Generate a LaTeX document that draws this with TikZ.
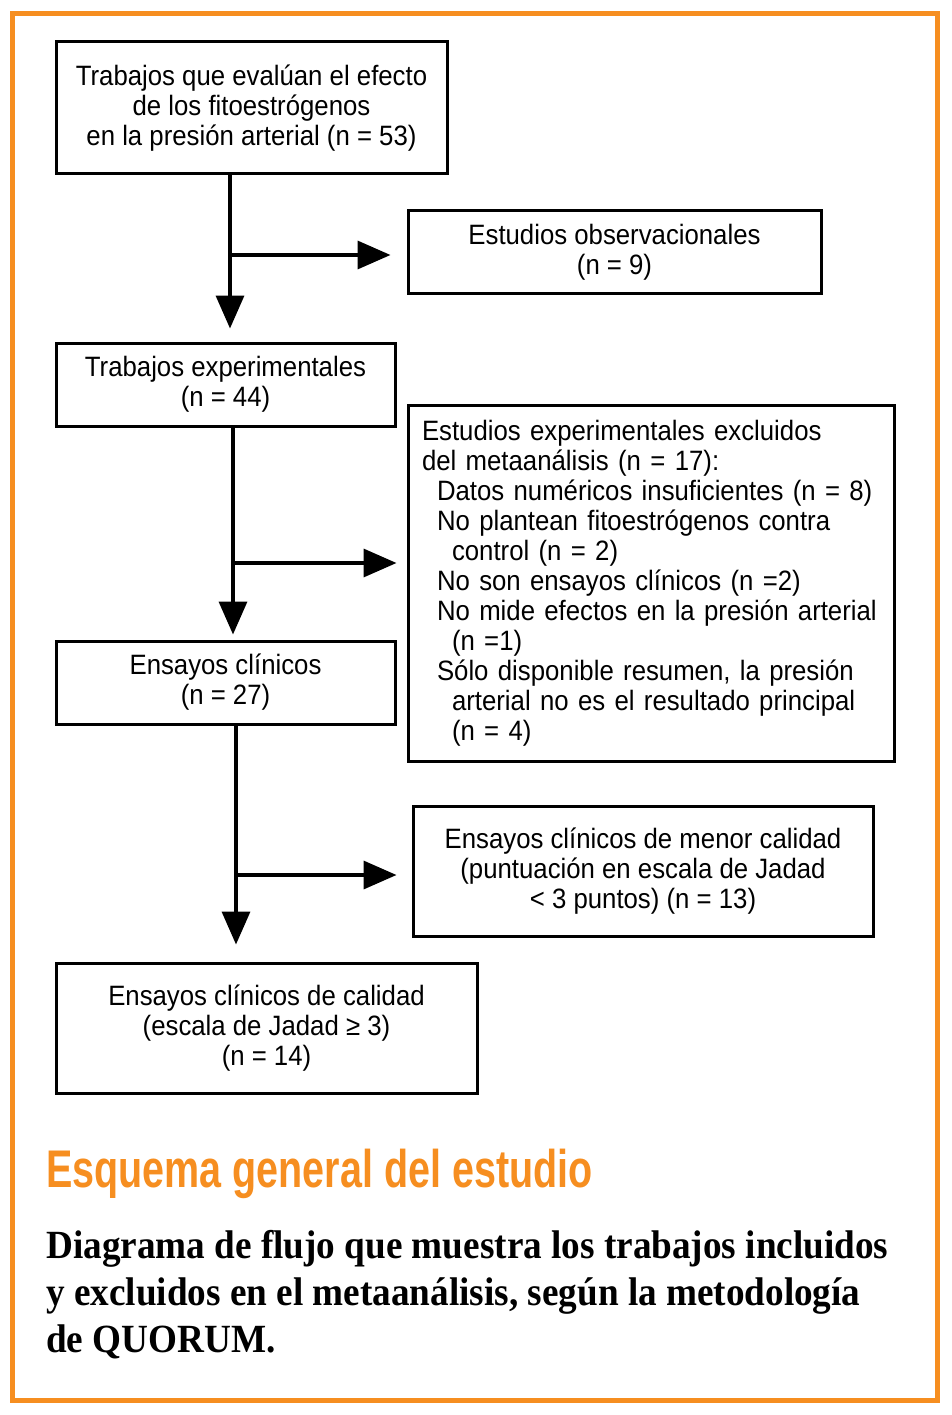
\documentclass[tikz,border=0pt]{standalone}
\usepackage{fontspec}
\setmainfont[FakeStretch=0.92]{Liberation Sans}
\newfontfamily\titlefont[FakeStretch=0.745]{Liberation Sans}
\newfontfamily\capfont[FakeStretch=0.93]{Liberation Serif}
\usetikzlibrary{arrows.meta}
\definecolor{qorange}{RGB}{246,142,32}
\tikzset{
  box/.style={draw, line width=3pt, inner sep=0pt, align=center, font=\fontsize{28}{30}\selectfont},
  flow/.style={line width=3.5pt, -{Triangle[length=33pt,width=28pt]}},
  capline/.style={anchor=base west, inner sep=0pt, font=\capfont\bfseries\fontsize{40}{47}\selectfont},
}
\begin{document}
\begin{tikzpicture}[x=1pt,y=-1pt]
\useasboundingbox (0,0) rectangle (951,1415);
\draw[qorange, line width=5pt] (12.5,14) rectangle (937.5,1400);

\node[box, minimum width=391, minimum height=132] (a) at (251.5,108)
  {Trabajos que evalúan el efecto\\de los fitoestrógenos\\en la presión arterial (n = 53)};
\node[box, minimum width=413, minimum height=82] (b) at (614.5,252)
  {Estudios observacionales\\(n = 9)};
\node[box, minimum width=339, minimum height=83] (c) at (225.5,384.5)
  {Trabajos experimentales\\(n = 44)};
\node[box, minimum width=486, minimum height=356, align=left, text width=458, inner xsep=14pt] (d) at (651,583)
  {Estudios experimentales excluidos\\
   del metaanálisis (n = 17):\\
   \hspace*{15pt}Datos numéricos insuficientes (n = 8)\\
   \hspace*{15pt}No plantean fitoestrógenos contra\\
   \hspace*{30pt}control (n = 2)\\
   \hspace*{15pt}No son ensayos clínicos (n =2)\\
   \hspace*{15pt}No mide efectos en la presión arterial\\
   \hspace*{30pt}(n =1)\\
   \hspace*{15pt}Sólo disponible resumen, la presión\\
   \hspace*{30pt}arterial no es el resultado principal\\
   \hspace*{30pt}(n = 4)};
\node[box, minimum width=339, minimum height=83] (e) at (225.5,682.5)
  {Ensayos clínicos\\(n = 27)};
\node[box, minimum width=460, minimum height=130] (f) at (643,871)
  {Ensayos clínicos de menor calidad\\(puntuación en escala de Jadad\\< 3 puntos) (n = 13)};
\node[box, minimum width=421, minimum height=130] (g) at (266.5,1028)
  {Ensayos clínicos de calidad\\(escala de Jadad ≥ 3)\\(n = 14)};

\coordinate (j1) at (230,255);
\coordinate (j2) at (233,563);
\coordinate (j3) at (236,875);

\draw[flow, shorten >=13pt] (a.south -| j1) -- (c.north -| j1);
\draw[flow, shorten >=16pt] (j1) -- (b.west |- j1);
\draw[flow, shorten >=5pt] (c.south -| j2) -- (e.north -| j2);
\draw[flow, shorten >=10pt] (j2) -- (d.west |- j2);
\draw[flow, shorten >=17pt] (e.south -| j3) -- (g.north -| j3);
\draw[flow, shorten >=15pt] (j3) -- (f.west |- j3);

\node[anchor=base west, inner sep=0pt, text=qorange, font=\titlefont\bfseries\fontsize{53}{53}\selectfont] (title) at (46,1187)
  {Esquema general del estudio};
\node[capline] (cap1) at (46,1258) {Diagrama de flujo que muestra los trabajos incluidos};
\node[capline] (cap2) at (46,1305) {y excluidos en el metaanálisis, según la metodología};
\node[capline] (cap3) at (46,1352) {de QUORUM.};
\end{tikzpicture}
\end{document}
